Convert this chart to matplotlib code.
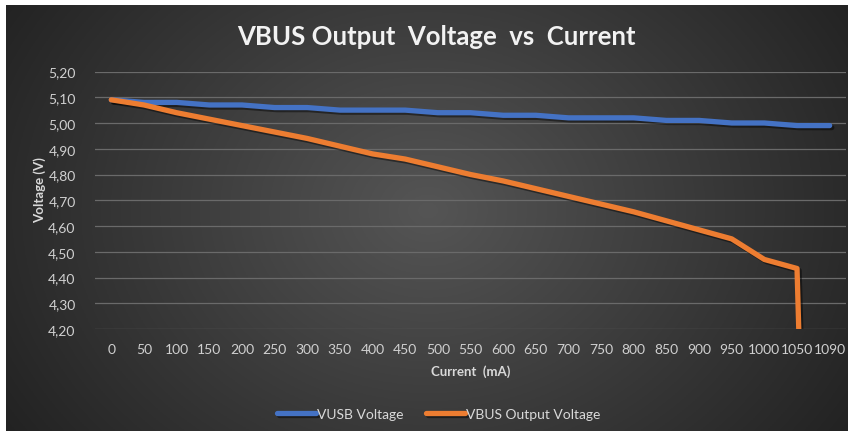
import numpy as np
import matplotlib
matplotlib.use("Agg")
import matplotlib.pyplot as plt
from matplotlib import patheffects as pe
from matplotlib.ticker import FuncFormatter

# ---- data ----
currents = ["0", "50", "100", "150", "200", "250", "300", "350", "400", "450", "500",
            "550", "600", "650", "700", "750", "800", "850", "900", "950", "1000",
            "1050", "1090"]
vusb = [5.09, 5.08, 5.08, 5.07, 5.07, 5.06, 5.06, 5.05, 5.05, 5.05, 5.04,
        5.04, 5.03, 5.03, 5.02, 5.02, 5.02, 5.01, 5.01, 5.00, 5.00,
        4.99, 4.99]
vbus = [5.09, 5.07, 5.04, 5.015, 4.99, 4.965, 4.94, 4.91, 4.88, 4.86, 4.83,
        4.80, 4.775, 4.745, 4.715, 4.685, 4.655, 4.62, 4.585, 4.55, 4.47,
        4.435, 0.0]
series_names = ["VUSB Voltage", "VBUS Output Voltage"]
title = "VBUS Output  Voltage  vs  Current"
xlabel = "Current  (mA)"
ylabel = "Voltage (V)"

W, H = 856, 439
fig = plt.figure(figsize=(W / 100, H / 100), dpi=100)
fig.patch.set_facecolor("white")

# ---- dark radial gradient panel ----
px0, py0, px1, py1 = 6, 6, 848, 432
bg = fig.add_axes([px0 / W, 1 - py1 / H, (px1 - px0) / W, (py1 - py0) / H], zorder=0)
bg.set_axis_off()
ny, nx = 200, 400
yy, xx = np.mgrid[0:ny, 0:nx]
cx, cy = nx * 0.50, ny * 0.48
r = np.sqrt(((xx - cx) / (nx * 0.60)) ** 2 + ((yy - cy) / (ny * 0.95)) ** 2)
r = np.clip(r, 0, 1)
c_in = np.array([0x55, 0x55, 0x55]) / 255
c_out = np.array([0x22, 0x22, 0x22]) / 255
img = c_in[None, None, :] * (1 - r[..., None]) + c_out[None, None, :] * r[..., None]
bg.imshow(img, aspect="auto", extent=[0, 1, 0, 1])

# ---- main axes ----
left, right, top, bottom = 95, 846, 72.5, 330
ax = fig.add_axes([left / W, 1 - bottom / H, (right - left) / W, (bottom - top) / H], zorder=1)
ax.set_facecolor("none")
x = np.arange(len(currents))

shadow = [pe.SimpleLineShadow(offset=(1.5, -1.5), shadow_color="black", alpha=0.45), pe.Normal()]
ax.plot(x, vusb, color="#4472C4", lw=3.8, solid_capstyle="round", solid_joinstyle="round",
        label=series_names[0], path_effects=shadow, zorder=3)
ax.plot(x, vbus, color="#ED7D31", lw=3.8, solid_capstyle="round", solid_joinstyle="round",
        label=series_names[1], path_effects=shadow, zorder=4)

ax.set_xlim(-0.5, len(currents) - 0.5)
ax.set_ylim(4.20, 5.20)
ax.set_yticks(np.round(np.arange(4.2, 5.201, 0.1), 2))
ax.yaxis.set_major_formatter(FuncFormatter(lambda v, p: f"{v:.2f}".replace(".", ",")))
ax.set_xticks(x)
ax.set_xticklabels(currents)
ax.grid(axis="y", color="#6a6a6a", lw=0.9)
ax.set_axisbelow(True)
for s in ax.spines.values():
    s.set_visible(False)
ax.tick_params(axis="both", length=0, colors="#d0d0d0", labelsize=10)
ax.tick_params(axis="y", pad=14)
ax.tick_params(axis="x", pad=10)
for lab in ax.get_xticklabels() + ax.get_yticklabels():
    lab.set_fontfamily("Lato")

fig.text((left + right) / 2 / W, 1 - 372 / H, xlabel, ha="center", va="center",
         color="#d9d9d9", fontsize=9.5, fontweight="bold", fontfamily="Lato")
fig.text(40 / W, 1 - 190 / H, ylabel, ha="center", va="center", rotation=90,
         color="#d9d9d9", fontsize=9.5, fontweight="bold", fontfamily="Lato")
fig.text(436 / W, 1 - 37 / H, title, ha="center", va="center",
         color="#f2f2f2", fontsize=18.5, fontweight="bold", fontfamily="Lato")

leg = fig.legend(loc="center", bbox_to_anchor=(439 / W, 1 - 415 / H), ncol=2, frameon=False,
                 prop={"family": "Lato", "size": 10}, handlelength=2.8, handletextpad=0.1,
                 columnspacing=1.6)
for t in leg.get_texts():
    t.set_color("#d9d9d9")
for h in leg.get_lines():
    h.set_linewidth(3.8)

fig.savefig("out.png", dpi=100, facecolor=fig.get_facecolor())
